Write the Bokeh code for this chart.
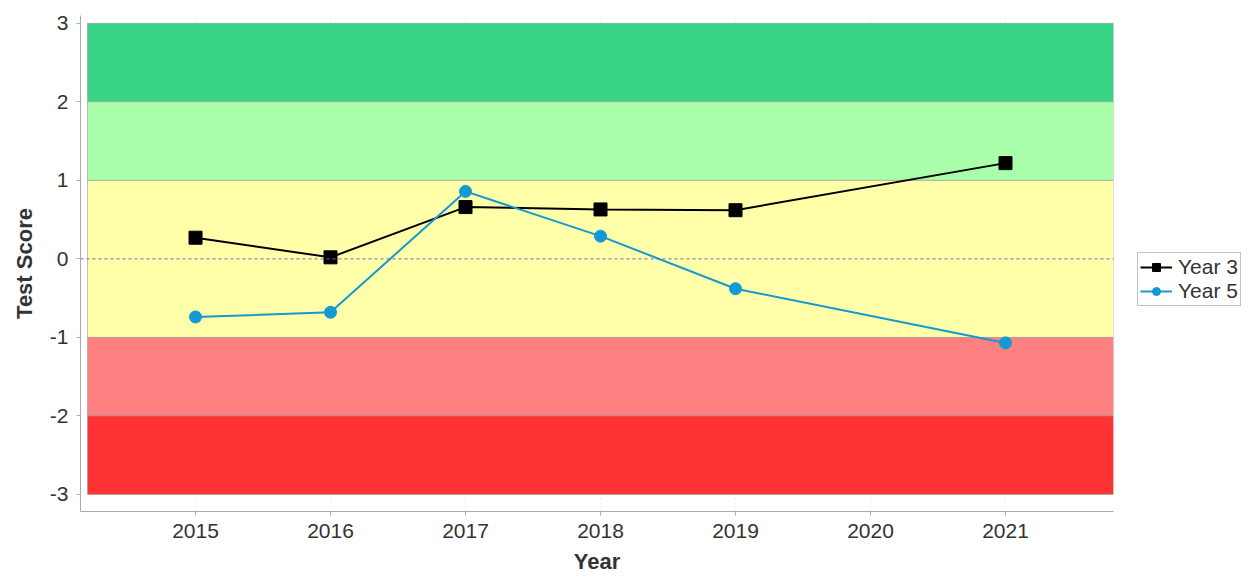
from bokeh.plotting import figure
from bokeh.layouts import row
from bokeh.models import Range1d, Legend, LegendItem, Span, FixedTicker
from bokeh.embed import file_html
from bokeh.resources import INLINE

years = [2015, 2016, 2017, 2018, 2019, 2021]
year3 = [0.27, 0.02, 0.66, 0.63, 0.62, 1.22]
year5 = [-0.74, -0.68, 0.86, 0.29, -0.38, -1.07]

band_bottoms = [2, 1, -1, -2, -3]
band_tops = [3, 2, 1, -1, -2]
band_colors = ["#36D484", "#AAFFAA", "#FFFFAA", "#FF8080", "#FF3333"]

x_ticks = [2015, 2016, 2017, 2018, 2019, 2020, 2021]
y_ticks = [-3, -2, -1, 0, 1, 2, 3]
y_tick_labels = ["-3", "-2", "-1", "0", "1", "2", "3"]

FONT = "Liberation Sans"
H = 577
W1 = 1118
W2 = 134
BLACK = "black"
BLUE = "#1399D4"

p = figure(width=W1, height=H, output_backend="svg", toolbar_location=None,
           x_range=Range1d(2014.148, 2021.8), y_range=Range1d(-3.217, 3.10),
           min_border_left=80, min_border_right=W1 - 1113, min_border_top=15, min_border_bottom=H - 511)
p.outline_line_color = None
p.background_fill_color = "white"
p.border_fill_color = "white"

x0 = 2014.2
x1 = 2021.8
p.quad(left=[x0] * len(band_tops), right=[x1] * len(band_tops), bottom=band_bottoms, top=band_tops,
       fill_color=band_colors, line_color="#999999", line_alpha=0.6, line_width=1)

p.add_layout(Span(location=0, dimension="width", line_color="#6666CC", line_dash="3 3", line_width=1))

p.line(years, year3, line_color=BLACK, line_width=2)
p.scatter(years, year3, marker="square", size=13, fill_color=BLACK, line_color=BLACK)
p.line(years, year5, line_color=BLUE, line_width=2)
p.scatter(years, year5, marker="circle", size=12, fill_color=BLUE, line_color=BLUE)

p.xaxis.ticker = FixedTicker(ticks=x_ticks)
p.yaxis.ticker = FixedTicker(ticks=y_ticks)
p.yaxis.major_label_overrides = {t: s for t, s in zip(y_ticks, y_tick_labels)}
for ax in [p.xaxis[0], p.yaxis[0]]:
    ax.axis_line_color = "#AAAAAA"
    ax.major_tick_line_color = "#AAAAAA"
    ax.major_tick_in = 0
    ax.major_tick_out = 4
    ax.minor_tick_line_color = None
    ax.major_label_text_font = FONT
    ax.major_label_text_font_size = "21px"
    ax.major_label_text_color = "#333333"
    ax.axis_label_text_font = FONT
    ax.axis_label_text_font_size = "22px"
    ax.axis_label_text_font_style = "bold"
    ax.axis_label_text_color = "#333333"
p.xaxis.axis_label = "Year"
p.yaxis.axis_label = "Test Score"
p.xaxis.major_label_standoff = 8
p.yaxis.major_label_standoff = 8
p.xaxis.axis_label_standoff = 8
p.yaxis.axis_label_standoff = 10

p.xgrid.grid_line_color = "#BBBBBB"
p.xgrid.grid_line_alpha = 0.5
p.xgrid.grid_line_dash = "1 3"
p.ygrid.grid_line_color = None

# legend panel (frames of plots in a row are aligned)
p2 = figure(width=W2, height=H, output_backend="svg", toolbar_location=None,
            x_range=Range1d(0, 1), y_range=Range1d(0, 1), x_axis_type=None, y_axis_type=None,
            min_border_left=0, min_border_right=0, min_border_top=15, min_border_bottom=H - 511)
p2.outline_line_color = None
p2.grid.grid_line_color = None
p2.background_fill_color = "white"
p2.border_fill_color = "white"
l3 = p2.line([5, 6], [5, 6], line_color=BLACK, line_width=2)
m3 = p2.scatter([5], [5], marker="square", size=13, fill_color=BLACK, line_color=BLACK)
l5 = p2.line([5, 6], [5, 6], line_color=BLUE, line_width=2)
m5 = p2.scatter([5], [5], marker="circle", size=12, fill_color=BLUE, line_color=BLUE)

legend = Legend(items=[LegendItem(label="Year 3", renderers=[l3, m3]),
                       LegendItem(label="Year 5", renderers=[l5, m5])],
                location=(1137 - W1, 511 - 306))
legend.label_text_font = FONT
legend.label_text_font_size = "21px"
legend.label_text_color = "#333333"
legend.border_line_color = "#888888"
legend.border_line_width = 1
legend.background_fill_color = "white"
legend.glyph_width = 32
legend.glyph_height = 20
legend.label_standoff = 6
legend.padding = 2
legend.spacing = 0
legend.margin = 0
legend.label_height = 20
p2.add_layout(legend, "center")

layout = row(p, p2, spacing=0)
open("out.html", "w").write(file_html(layout, INLINE))
